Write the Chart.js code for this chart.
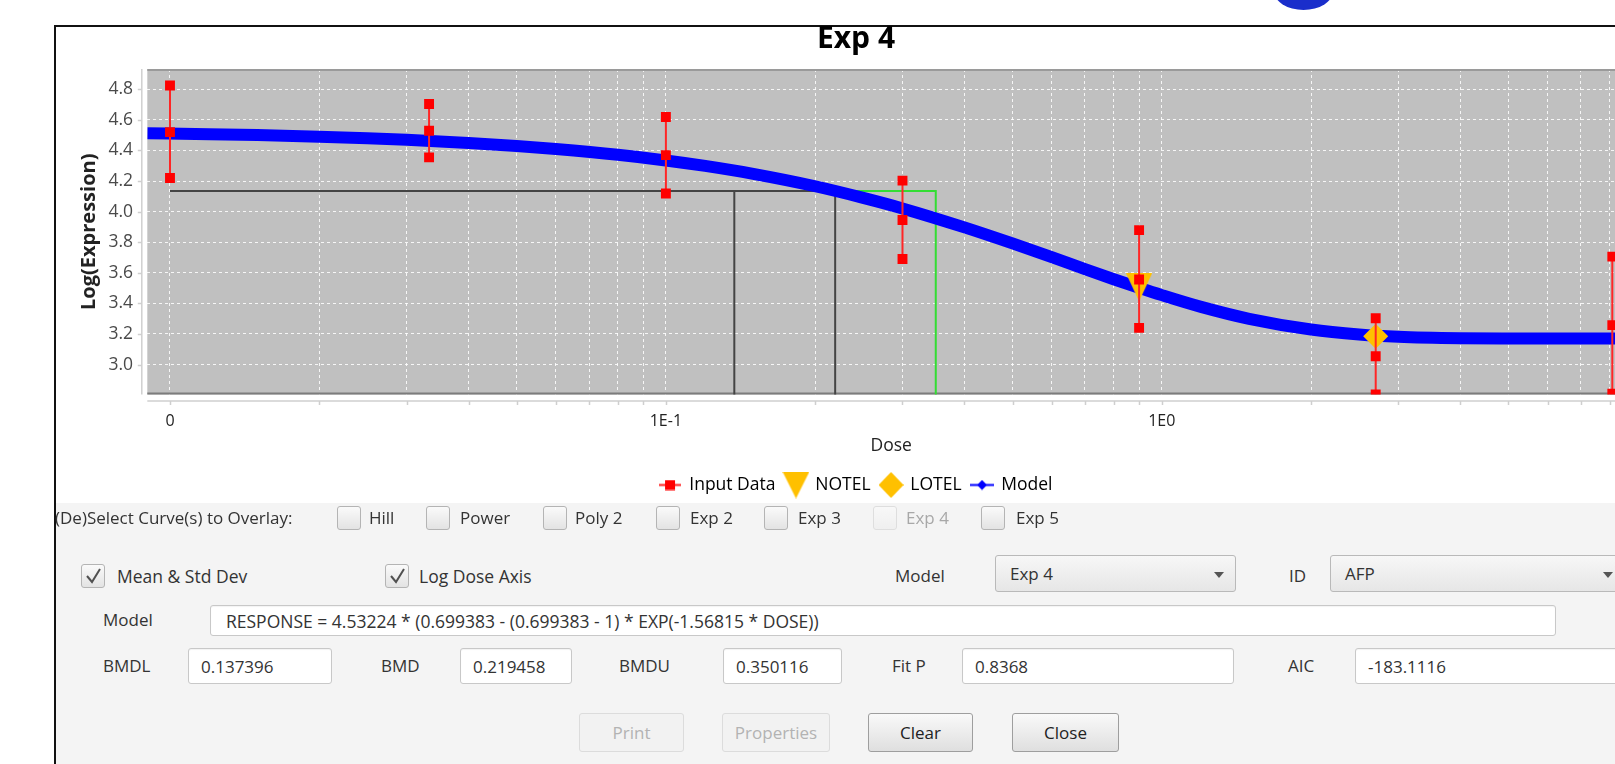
<!DOCTYPE html>
<html>
<head>
<meta charset="utf-8">
<script src="https://cdn.jsdelivr.net/npm/chart.js@4.4.1/dist/chart.umd.min.js"></script>
<style>
html,body{margin:0;padding:0;width:1615px;height:764px;overflow:hidden;background:#fff;font-family:"Open Sans",sans-serif;}
#blob{position:absolute;left:1274px;top:-28px;width:59px;height:38px;border-radius:50%;background:#1a2ecb;}
#win{position:absolute;left:54px;top:25px;width:1700px;height:760px;border-left:2px solid #111;border-top:2px solid #111;background:#fff;}
#panel{position:absolute;left:56px;top:503px;width:1700px;height:270px;background:#f4f4f4;}
#chartbox{position:absolute;left:56px;top:0;width:1600px;height:510px;}
.t{position:absolute;font-size:17px;line-height:20px;color:#333;white-space:nowrap;}
.t.dis{color:#a8a8a8;}
.cb{position:absolute;width:24px;height:24px;border:1px solid #b4b4b4;border-radius:3px;background:linear-gradient(#fafafa,#e3e3e3);box-sizing:border-box;}
.cb.dis{border-color:#dedede;background:linear-gradient(#f8f8f8,#efefef);}
.cb svg{position:absolute;left:3px;top:3px;}
.fld{position:absolute;background:#fff;border:1px solid #c8c8c8;border-radius:3px;box-sizing:border-box;font-size:17px;color:#333;display:flex;align-items:center;padding-left:12px;white-space:nowrap;overflow:hidden;box-shadow:inset 0 1px 1px rgba(0,0,0,0.05);}
.dd{position:absolute;border:1px solid #b9b9b9;border-radius:3px;background:linear-gradient(#f7f7f7,#e6e6e6);box-sizing:border-box;font-size:17px;color:#333;display:flex;align-items:center;padding-left:14px;}
.dd .arr{position:absolute;top:16px;width:0;height:0;border-left:5px solid transparent;border-right:5px solid transparent;border-top:6px solid #555;}
.btn{position:absolute;border:1px solid #9e9e9e;border-radius:3px;background:linear-gradient(#f9f9f9,#dfdfdf);box-sizing:border-box;font-size:17px;color:#222;display:flex;align-items:center;justify-content:center;}
.btn.dis{border-color:#dcdcdc;background:#f2f2f2;color:#b3b3b3;}
</style>
</head>
<body>
<div id="blob"></div>
<div id="win"></div>
<div id="panel"></div>
<div id="chartbox"><canvas id="c" width="1600" height="510"></canvas></div>

<div class="t" style="left:55px;top:508px;">(De)Select Curve(s) to Overlay:</div>
<div class="cb" style="left:337px;top:506px;"></div><div class="t" style="left:369px;top:508px;">Hill</div>
<div class="cb" style="left:426px;top:506px;"></div><div class="t" style="left:460px;top:508px;">Power</div>
<div class="cb" style="left:543px;top:506px;"></div><div class="t" style="left:575px;top:508px;">Poly 2</div>
<div class="cb" style="left:656px;top:506px;"></div><div class="t" style="left:690px;top:508px;">Exp 2</div>
<div class="cb" style="left:764px;top:506px;"></div><div class="t" style="left:798px;top:508px;">Exp 3</div>
<div class="cb dis" style="left:873px;top:506px;"></div><div class="t dis" style="left:906px;top:508px;">Exp 4</div>
<div class="cb" style="left:981px;top:506px;"></div><div class="t" style="left:1016px;top:508px;">Exp 5</div>

<div class="cb" style="left:81px;top:564px;"><svg width="17" height="17" viewBox="0 0 17 17"><polyline points="2,8 7,14 15,1" fill="none" stroke="#505050" stroke-width="2"/></svg></div>
<div class="t" style="left:117px;top:566px;font-size:17.5px;">Mean &amp; Std Dev</div>
<div class="cb" style="left:385px;top:564px;"><svg width="17" height="17" viewBox="0 0 17 17"><polyline points="2,8 7,14 15,1" fill="none" stroke="#505050" stroke-width="2"/></svg></div>
<div class="t" style="left:419px;top:566px;font-size:17.5px;">Log Dose Axis</div>
<div class="t" style="left:895px;top:566px;">Model</div>
<div class="dd" style="left:995px;top:555px;width:241px;height:37px;">Exp 4<div class="arr" style="left:218px;"></div></div>
<div class="t" style="left:1289px;top:566px;">ID</div>
<div class="dd" style="left:1330px;top:555px;width:292px;height:37px;">AFP<div class="arr" style="left:272px;"></div></div>

<div class="t" style="left:103px;top:610px;">Model</div>
<div class="fld" style="left:210px;top:605px;width:1346px;height:31px;font-size:17.5px;padding-left:15px;">RESPONSE = 4.53224 * (0.699383 - (0.699383 - 1) * EXP(-1.56815 * DOSE))</div>

<div class="t" style="left:103px;top:656px;">BMDL</div>
<div class="fld" style="left:188px;top:648px;width:144px;height:36px;">0.137396</div>
<div class="t" style="left:381px;top:656px;">BMD</div>
<div class="fld" style="left:460px;top:648px;width:112px;height:36px;">0.219458</div>
<div class="t" style="left:619px;top:656px;">BMDU</div>
<div class="fld" style="left:723px;top:648px;width:119px;height:36px;">0.350116</div>
<div class="t" style="left:892px;top:656px;">Fit P</div>
<div class="fld" style="left:962px;top:648px;width:272px;height:36px;">0.8368</div>
<div class="t" style="left:1288px;top:656px;">AIC</div>
<div class="fld" style="left:1355px;top:648px;width:270px;height:36px;">-183.1116</div>

<div class="btn dis" style="left:579px;top:713px;width:105px;height:39px;">Print</div>
<div class="btn dis" style="left:722px;top:713px;width:108px;height:39px;">Properties</div>
<div class="btn" style="left:868px;top:713px;width:105px;height:39px;">Clear</div>
<div class="btn" style="left:1012px;top:713px;width:107px;height:39px;">Close</div>

<script>
// ---------------- data ----------------
const chartTitle = 'Exp 4';
const zeroDosePos = 0.01;            // where the zero dose is drawn on the log axis
const doses    = [0, 0.0333, 0.1, 0.3, 0.9, 2.7, 8.1];
const meanResp = [4.520, 4.529, 4.370, 3.945, 3.556, 3.054, 3.258];
const sdHigh   = [4.825, 4.704, 4.619, 4.203, 3.879, 3.303, 3.706];
const sdLow    = [4.220, 4.355, 4.119, 3.690, 3.240, 2.805, 2.810];

const modelDose = [0.009, 0.012, 0.015, 0.02, 0.025, 0.03, 0.04, 0.05, 0.06, 0.08, 0.1, 0.12, 0.15, 0.2, 0.25, 0.3, 0.4, 0.5, 0.6, 0.7, 0.8, 0.9, 1.0, 1.2, 1.5, 2.0, 2.5, 3.0, 4.0, 5.0, 6.0, 7.0, 9.0];
const modelResp = [4.513, 4.507, 4.501, 4.490, 4.480, 4.470, 4.449, 4.430, 4.410, 4.372, 4.335, 4.299, 4.247, 4.166, 4.090, 4.021, 3.897, 3.792, 3.702, 3.624, 3.558, 3.502, 3.454, 3.377, 3.299, 3.229, 3.197, 3.182, 3.172, 3.170, 3.170, 3.170, 3.170];

const notelDose = 0.9, notelResp = 3.505;
const lotelDose = 2.7, lotelResp = 3.185;

const bmdl = 0.137396, bmd = 0.219458, bmdu = 0.350116;
const bmrResp = 4.1356;

const xMin = 0.009, xMax = 9;
const yMin = 2.804, yMax = 4.933;
const xTickValues = [0.01,0.02,0.03,0.04,0.05,0.06,0.07,0.08,0.09,0.1,0.2,0.3,0.4,0.5,0.6,0.7,0.8,0.9,1,2,3,4,5,6,7,8];
const xTickLabels = ['0','','','','','','','','','1E-1','','','','','','','','','1E0','','','','','','',''];
const yTickValues = [3.0,3.2,3.4,3.6,3.8,4.0,4.2,4.4,4.6,4.8];
const yTickLabels = ['3.0','3.2','3.4','3.6','3.8','4.0','4.2','4.4','4.6','4.8'];
const legendNames = ['Input Data','NOTEL','LOTEL','Model'];

// ---------------- build ----------------
const plotX = d => (d === 0 ? zeroDosePos : d);
const inputPts = [];
doses.forEach((d, i) => {
  const x = plotX(d);
  inputPts.push({x, y: sdLow[i]}, {x, y: meanResp[i]}, {x, y: sdHigh[i]}, {x, y: null});
});
const modelPts = modelDose.map((d, i) => ({x: d, y: modelResp[i]}));

const YEL = '#ffc000';
function icon(w, h, fn) { const c = document.createElement('canvas'); c.width = w; c.height = h; fn(c.getContext('2d'), w, h); return c; }
const triImg = icon(26, 28, (g, w, h) => { g.fillStyle = YEL; g.beginPath(); g.moveTo(0, 0); g.lineTo(w, 0); g.lineTo(w / 2, h); g.closePath(); g.fill(); });
const icoInput = icon(22, 11, (g) => { g.fillStyle = '#ff2020'; g.fillRect(0, 4.5, 22, 2); g.fillStyle = '#ff0000'; g.fillRect(6, 0.5, 10, 10); });
const icoNotel = icon(27, 27, (g, w, h) => { g.fillStyle = YEL; g.beginPath(); g.moveTo(0, 0); g.lineTo(w, 0); g.lineTo(w / 2, h); g.closePath(); g.fill(); });
const icoLotel = icon(25, 26, (g, w, h) => { g.fillStyle = YEL; g.beginPath(); g.moveTo(w / 2, 0); g.lineTo(w, h / 2); g.lineTo(w / 2, h); g.lineTo(0, h / 2); g.closePath(); g.fill(); });
const icoModel = icon(24, 11, (g) => { g.fillStyle = '#0000ff'; g.fillRect(0, 4.5, 24, 2); g.beginPath(); g.moveTo(12, 0.5); g.lineTo(17, 5.5); g.lineTo(12, 10.5); g.lineTo(7, 5.5); g.closePath(); g.fill(); });
const legendIcons = [icoInput, icoNotel, icoLotel, icoModel];

const plotDecor = {
  id: 'plotDecor',
  beforeDraw(chart) {
    const {ctx, chartArea: a} = chart;
    ctx.save();
    ctx.fillStyle = '#c0c0c0';
    ctx.fillRect(a.left, a.top, a.right - a.left, a.bottom - a.top);
    ctx.restore();
  },
  beforeDatasetsDraw(chart) {
    const {ctx, chartArea: a, scales} = chart;
    const xs = scales.x, ys = scales.y;
    ctx.save();
    ctx.lineWidth = 2;
    ctx.strokeStyle = '#9a9a9a';
    ctx.beginPath(); ctx.moveTo(a.left, a.top + 1); ctx.lineTo(a.right, a.top + 1); ctx.stroke();
    ctx.strokeStyle = '#7c7c7c';
    ctx.beginPath(); ctx.moveTo(a.left, a.bottom - 1); ctx.lineTo(a.right, a.bottom - 1); ctx.stroke();
    // offset axis lines and tick marks
    ctx.strokeStyle = '#cfcfcf';
    ctx.lineWidth = 1.5;
    const ax = a.left - 5.5, ay = a.bottom + 6.5;
    ctx.beginPath(); ctx.moveTo(ax, a.top); ctx.lineTo(ax, a.bottom); ctx.stroke();
    ctx.beginPath(); ctx.moveTo(a.left, ay); ctx.lineTo(a.right, ay); ctx.stroke();
    ctx.beginPath();
    ys.ticks.forEach(t => { const py = Math.round(ys.getPixelForValue(t.value)) + 0.5; ctx.moveTo(ax - 4, py); ctx.lineTo(ax, py); });
    xs.ticks.forEach(t => { const px = Math.round(xs.getPixelForValue(t.value)) + 0.5; ctx.moveTo(px, ay); ctx.lineTo(px, ay + 4); });
    ctx.stroke();
    ctx.restore();
  }
};

Chart.defaults.font.family = "'Open Sans', sans-serif";

new Chart(document.getElementById('c'), {
  type: 'line',
  data: {
    datasets: [
      { label: legendNames[0], data: inputPts, order: 1, clip: 0,
        borderColor: '#ff2626', borderWidth: 2, spanGaps: false,
        pointStyle: 'rect', pointRadius: 7, pointBackgroundColor: '#ff0000', pointBorderColor: '#ff0000', pointBorderWidth: 0 },
      { label: legendNames[1], data: [{x: notelDose, y: notelResp}], order: 2, clip: 0, showLine: false,
        pointStyle: triImg, pointRadius: 12 },
      { label: legendNames[2], data: [{x: lotelDose, y: lotelResp}], order: 2, clip: 0, showLine: false,
        pointStyle: 'rectRot', pointRadius: 12.5, pointBackgroundColor: YEL, pointBorderColor: YEL, pointBorderWidth: 0 },
      { label: legendNames[3], data: modelPts, order: 3, clip: 0,
        borderColor: '#0000ff', borderWidth: 12, pointRadius: 0, cubicInterpolationMode: 'monotone' },
      { label: 'bmrBlack', data: [{x: zeroDosePos, y: bmrResp}, {x: bmd, y: bmrResp}, {x: bmd, y: yMin - 0.2}], order: 4, clip: 0,
        borderColor: '#444444', borderWidth: 2, pointRadius: 0 },
      { label: 'bmdlLine', data: [{x: bmdl, y: bmrResp}, {x: bmdl, y: yMin - 0.2}], order: 4, clip: 0,
        borderColor: '#444444', borderWidth: 2, pointRadius: 0 },
      { label: 'bmduLine', data: [{x: bmd, y: bmrResp}, {x: bmdu, y: bmrResp}, {x: bmdu, y: yMin - 0.2}], order: 4, clip: 0,
        borderColor: '#33dd33', borderWidth: 2, pointRadius: 0 }
    ]
  },
  options: {
    responsive: false,
    animation: false,
    events: [],
    layout: { padding: { top: 0, left: 21, right: 21, bottom: 6.25 } },
    plugins: {
      tooltip: { enabled: false },
      title: { display: true, text: chartTitle, color: '#000', font: { size: 30, weight: 'bold' }, padding: { top: 21, bottom: 12 } },
      legend: {
        display: true, position: 'bottom',
        labels: {
          usePointStyle: true, pointStyleWidth: 21, padding: 10, color: '#222',
          font: { size: 17.5 },
          generateLabels: () => legendNames.map((n, i) => ({ text: n, pointStyle: legendIcons[i], fillStyle: '#000', strokeStyle: '#000', lineWidth: 0, hidden: false, datasetIndex: i }))
        }
      }
    },
    scales: {
      x: {
        type: 'logarithmic', position: 'bottom', min: xMin, max: xMax,
        afterBuildTicks: s => { s.ticks = xTickValues.map(v => ({ value: v })); s.min = xMin; s.max = xMax; },
        afterFit: s => { s.height = 71.75; },
        ticks: { autoSkip: false, maxRotation: 0, padding: 17, color: '#222', font: { size: 16 },
                 callback: (v, i) => xTickLabels[i] },
        grid: { color: 'rgba(255,255,255,0.85)', lineWidth: 1, drawTicks: false },
        border: { display: false, dash: [3, 3] },
        title: { display: true, text: 'Dose', color: '#222', font: { size: 17.5 }, padding: { top: 0, bottom: 9.75 } }
      },
      y: {
        type: 'linear', position: 'left', min: yMin, max: yMax,
        afterBuildTicks: s => { s.ticks = yTickValues.map(v => ({ value: v })); s.min = yMin; s.max = yMax; },
        afterFit: s => { s.width = 70.3; },
        ticks: { autoSkip: false, padding: 14.3, color: '#4a4a4a', font: { size: 17.5 },
                 callback: (v, i) => yTickLabels[i] },
        grid: { color: 'rgba(255,255,255,0.85)', lineWidth: 1, drawTicks: false },
        border: { display: false, dash: [3, 3] },
        title: { display: true, text: 'Log(Expression)', color: '#222', font: { size: 20, weight: 'bold' }, padding: { top: 0, bottom: 0 } }
      }
    }
  },
  plugins: [plotDecor]
});
</script>
</body>
</html>
